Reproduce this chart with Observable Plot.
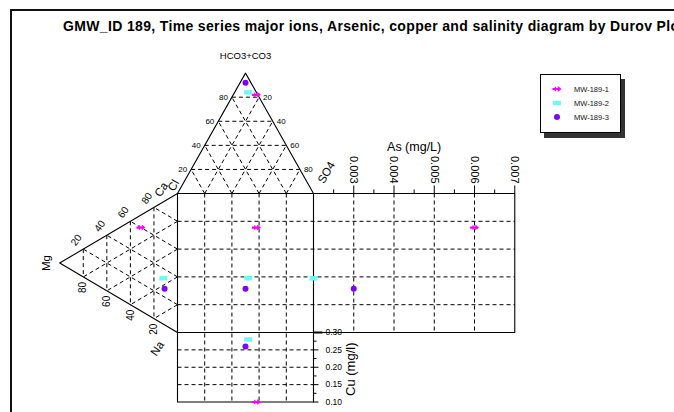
<!DOCTYPE html>
<html><head><meta charset="utf-8">
<script src="https://cdn.jsdelivr.net/npm/d3@7"></script>
<script src="https://cdn.jsdelivr.net/npm/@observablehq/plot@0.6"></script>
<style>
html,body{margin:0;padding:0;background:#fff;overflow:hidden;width:674px;height:412px;}
#wrap{position:relative;width:674px;height:412px;overflow:hidden;font-family:"Liberation Sans",Arial,sans-serif;}
#frame{position:absolute;left:10px;top:9px;width:900px;height:700px;border-left:2px solid #111;border-top:2px solid #111;}
#title{position:absolute;left:63px;top:18px;font-weight:bold;font-size:14px;letter-spacing:0.35px;line-height:16px;white-space:nowrap;color:#000;}
#chart{position:absolute;left:0;top:0;}
#legend{position:absolute;left:540px;top:74px;width:79px;height:57px;border:1px solid #000;background:#fff;box-shadow:4px 5px 0 #333;}
</style></head>
<body><div id="wrap"><div id="frame"></div><div id="chart"></div><div id="title"></div><div id="legend"></div></div>
<script>
// ---- data ----
const title = "GMW_ID 189, Time series major ions, Arsenic, copper and salinity diagram by Durov Plot";
const series = ["MW-189-1", "MW-189-2", "MW-189-3"];
const hco3 = [82, 84, 92];   // % HCO3+CO3
const so4  = [17, 10, 4];    // % SO4
const cl   = [1, 6, 4];      // % Cl
const ca   = [60, 33, 26];   // % Ca
const mg   = [31, 12, 11];   // % Mg
const na   = [9, 55, 63];    // % Na
const arsenic = [0.006, 0.002, 0.003]; // As mg/L
const copper  = [0.10, 0.28, 0.26];    // Cu mg/l
const colors = ["#ff00ff", "#6ff8f8", "#8000ff"];
const pctTicks = [20, 40, 60, 80];
const asTicks = [0.003, 0.004, 0.005, 0.006, 0.007];
const asMinor = [0.0025, 0.0035, 0.0045, 0.0055, 0.0065];
const cuTicks = [0.30, 0.25, 0.20, 0.15, 0.10];
const cuMinor = [0.275, 0.225, 0.175, 0.125];

document.getElementById("title").textContent = title;

// ---- geometry (diagram units: square is 0..100 x 0..100) ----
const H = 86.6;
const AS_MIN = 0.002, AS_MAX = 0.007, AS_U0 = 100, AS_U1 = 248;
const CU_TOP = 0.30, CU_BOT = 0.10, CU_V0 = 100, CU_V1 = 150;
const asU = a => AS_U0 + (a - AS_MIN) / (AS_MAX - AS_MIN) * (AS_U1 - AS_U0);
const cuV = c => CU_V0 + (CU_TOP - c) / (CU_TOP - CU_BOT) * (CU_V1 - CU_V0);

const rows = series.map((name, i) => ({
  name, h: hco3[i], s: so4[i], c: cl[i], ca: ca[i], mg: mg[i], na: na[i], as: arsenic[i], cu: copper[i]
}));
const sqU = d => d.s + d.h / 2;
const sqV = d => d.na + d.mg / 2;

// solid outlines
const solidPaths = [
  [[0,0],[50,-H],[100,0]],
  [[0,0],[asU(AS_MAX),0],[asU(AS_MAX),100],[0,100],[0,0]],
  [[100,0],[100,cuV(CU_BOT)]],
  [[0,0],[-H,50],[0,100]],
  [[0,100],[0,cuV(CU_BOT)],[100,cuV(CU_BOT)]]
];
const solid = solidPaths.flatMap((p, id) => p.map(([u, v]) => ({id, u, v})));

// dashed grid
const dashed = [];
pctTicks.forEach(k => {
  const f = k / 100;
  dashed.push([k, 0, k, cuV(CU_BOT)]);
  dashed.push([0, k, asU(AS_MAX), k]);
  dashed.push([50*f, -H*f, 100-50*f, -H*f]);
  dashed.push([k, 0, 100-50*(1-f), -H*(1-f)]);
  dashed.push([100-k, 0, 50*(1-f), -H*(1-f)]);
  dashed.push([-H*f, 50*f, -H*f, 100-50*f]);
  dashed.push([0, k, -H*(1-f), k + 50*(1-f)]);
  dashed.push([0, 100-k, -H*(1-f), 50*(1-f)]);
});
asTicks.filter(a => a < AS_MAX).forEach(a => dashed.push([asU(a), 0, asU(a), 100]));
cuTicks.filter(c => c < CU_TOP && c > CU_BOT).forEach(c => dashed.push([0, cuV(c), 100, cuV(c)]));

// symbols
const arrowSym = {draw(ctx) {
  ctx.moveTo(-4.5,-1.1); ctx.lineTo(0.8,-1.1); ctx.lineTo(0.8,-3); ctx.lineTo(4.5,0); ctx.lineTo(0.8,3); ctx.lineTo(0.8,1.1); ctx.lineTo(-4.5,1.1); ctx.closePath();
  ctx.moveTo(-2.2,-2.2); ctx.lineTo(-1,-2.2); ctx.lineTo(-1,2.2); ctx.lineTo(-2.2,2.2); ctx.closePath();
}};
const rectSym = {draw(ctx) {
  ctx.moveTo(-4,-2.2); ctx.lineTo(4,-2.2); ctx.lineTo(4,2.2); ctx.lineTo(-4,2.2); ctx.closePath();
}};
const circSym = {draw(ctx) { ctx.moveTo(3,0); ctx.arc(0,0,3,0,2*Math.PI); }};
const syms = [arrowSym, rectSym, circSym];

const font = "Liberation Sans, Arial, sans-serif";
const dotMarks = [];
series.forEach((name, i) => {
  const d = rows.filter(r => r.name === name);
  const o = {fill: colors[i], symbol: syms[i], stroke: "none"};
  dotMarks.push(
    Plot.dot(d, {x: r => r.s + r.h/2, y: r => -H * r.h / 100, ...o}),
    Plot.dot(d, {x: r => -H * r.mg / 100, y: r => r.na + r.mg/2, ...o}),
    Plot.dot(d, {x: sqU, y: sqV, ...o}),
    Plot.dot(d, {x: r => asU(r.as), y: sqV, ...o}),
    Plot.dot(d, {x: sqU, y: r => cuV(r.cu), ...o})
  );
});

const pxU = 136 / 100, pxV = 139 / 100;

const chart = Plot.plot({
  width: 674, height: 412, margin: 0,
  x: {domain: [0, 100], range: [177, 313], axis: null},
  y: {domain: [0, 100], range: [193, 332], axis: null},
  style: {fontFamily: font, background: "transparent"},
  marks: [
    Plot.link(dashed, {x1: d => d[0], y1: d => d[1], x2: d => d[2], y2: d => d[3], stroke: "#000", strokeWidth: 1, strokeDasharray: "4,3"}),
    Plot.line(solid, {x: "u", y: "v", z: "id", stroke: "#000", strokeWidth: 1.1}),
    // As ticks
    Plot.link(asTicks, {x1: asU, x2: asU, y1: 0, y2: -8 / pxV, stroke: "#000"}),
    Plot.link(asMinor, {x1: asU, x2: asU, y1: 0, y2: -4 / pxV, stroke: "#000"}),
    Plot.text(asTicks, {x: asU, y: -10 / pxV, text: d => d.toFixed(3), rotate: 90, textAnchor: "end", lineAnchor: "middle", fontSize: 11, fill: "#000"}),
    Plot.text(["As (mg/L)"], {x: asU(0.0045), y: -47 / pxV, text: d => d, fontSize: 12.5, fill: "#000"}),
    // Cu ticks
    Plot.link(cuTicks.filter(c => c < CU_TOP), {x1: 100, x2: 100 + 5 / pxU, y1: cuV, y2: cuV, stroke: "#000"}),
    Plot.link([CU_TOP], {x1: 100, x2: 100 + 9 / pxU, y1: cuV, y2: cuV, stroke: "#000", strokeWidth: 2}),
    Plot.link(cuMinor, {x1: 100, x2: 100 + 3 / pxU, y1: cuV, y2: cuV, stroke: "#000"}),
    Plot.text(cuTicks, {x: 100 + 12 / pxU, y: cuV, text: d => d.toFixed(2), textAnchor: "start", fontSize: 8.5, fill: "#000"}),
    Plot.text(["Cu (mg/l)"], {x: 100 + 37 / pxU, y: cuV(0.20) + 2 / pxV, text: d => d, rotate: -90, fontSize: 13, fill: "#000"}),
    // top triangle labels
    Plot.text(pctTicks, {x: k => 50 * k / 100, y: k => -H * k / 100, text: k => String(k), dx: -4, textAnchor: "end", fontSize: 8, fill: "#000"}),
    Plot.text(pctTicks, {x: k => 50 + 50 * k / 100, y: k => -H * (1 - k / 100), text: k => String(k), dx: 4, textAnchor: "start", fontSize: 8, fill: "#000"}),
    Plot.text(["HCO3+CO3"], {x: 50, y: -H - 17 / pxV, text: d => d, fontSize: 9.5, fill: "#000", letterSpacing: "0.4px"}),
    Plot.text(["Cl"], {x: -4 / pxU, y: -8 / pxV, text: d => d, rotate: -60, fontSize: 11.5, fill: "#000"}),
    Plot.text(["SO4"], {x: 100 + 13 / pxU, y: -21 / pxV, text: d => d, rotate: -60, fontSize: 11.5, fill: "#000"}),
    // left triangle labels
    Plot.text(pctTicks, {x: k => -H * (1 - k / 100), y: k => 50 * (1 - k / 100), text: k => String(k), dx: -7, dy: -9, rotate: -55, fontSize: 10, fill: "#000"}),
    Plot.text(pctTicks, {x: k => -H * k / 100, y: k => 100 - 50 * k / 100, text: k => String(k), dy: 5, rotate: -90, textAnchor: "end", fontSize: 10, fill: "#000"}),
    Plot.text(["Mg"], {x: -H - 13 / pxU, y: 50, text: d => d, rotate: -90, fontSize: 11.5, fill: "#000"}),
    Plot.text(["Ca"], {x: -16 / pxU, y: -4 / pxV, text: d => d, rotate: -55, fontSize: 11.5, fill: "#000"}),
    Plot.text(["Na"], {x: -20 / pxU, y: 100 + 16 / pxV, text: d => d, rotate: -55, fontSize: 11.5, fill: "#000"}),
    ...dotMarks
  ]
});
document.getElementById("chart").appendChild(chart);

// legend
const lg = d3.select("#legend").append("svg").attr("width", 79).attr("height", 57);
series.forEach((name, i) => {
  const y = 14 + i * 14;
  lg.append("path").attr("transform", `translate(16,${y})`).attr("fill", colors[i])
    .attr("d", d3.symbol(syms[i])());
  lg.append("text").attr("x", 33).attr("y", y).attr("dy", "0.35em")
    .attr("font-size", 7.5).attr("font-family", font).attr("fill", "#111").text(name);
});
</script></body></html>
